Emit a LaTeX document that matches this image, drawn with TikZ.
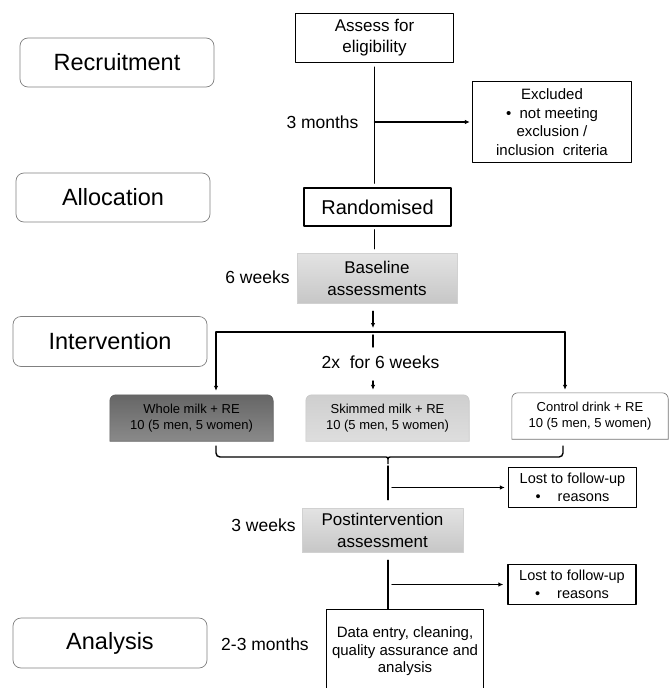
\documentclass[tikz,border=0pt]{standalone}
\usepackage{fontspec}
\setmainfont{Liberation Sans}
\usetikzlibrary{positioning,arrows.meta,backgrounds}

\tikzset{
  stagebox/.style={draw=black!50,line width=0.7pt,rounded corners=8pt,fill=white,
    minimum width=194pt,minimum height=49pt,font=\fontsize{23.5}{26}\selectfont},
  flowbox/.style={draw,line width=1.3pt,align=center},
  greybox/.style={draw=black!18,line width=0.5pt,top color=black!11,bottom color=black!22,align=center},
  armbox/.style={minimum width=163pt,minimum height=46pt,align=center,font=\fontsize{13}{16}\selectfont},
  timelbl/.style={font=\fontsize{17.5}{21}\selectfont},
  link/.style={line width=1.4pt}
}

\begin{document}
\begin{tikzpicture}[x=1pt,y=-1pt,line cap=round,line join=round,>={Latex[length=5pt,width=4.5pt]},every node/.style={inner sep=1pt}]
  \useasboundingbox (0,0) rectangle (670,688);
  \def\r{6pt}
  \node[stagebox] (recr) at (117,62.5) {Recruitment};
  \node[stagebox] (alloc) at (113,197.5) {Allocation};
  \node[stagebox,minimum height=50pt] (interv) at (110,341.5) {Intervention};
  \node[stagebox,minimum height=50pt] (anal) at (110,643) {Analysis};

  \node[flowbox,minimum width=158pt,minimum height=49pt,font=\fontsize{17}{21}\selectfont] (assess) at (374.5,38) {Assess for\\eligibility};
  \node[flowbox,minimum width=159pt,minimum height=81pt,font=\fontsize{15}{18.5}\selectfont] (excl) at (552,122)
    {Excluded\\\textbullet\ \ not meeting\\exclusion /\\inclusion~ criteria};
  \node[flowbox,line width=1.7pt,minimum width=147pt,minimum height=38pt,font=\fontsize{20}{24}\selectfont] (rand) at (377.5,207) {Randomised};
  \node[greybox,minimum width=160pt,minimum height=50pt,font=\fontsize{17}{22}\selectfont] (base) at (377,278) {Baseline\\assessments};
  \node[armbox] (whole) at (191.5,418) {Whole milk + RE\\10 (5 men, 5 women)};
  \node[armbox] (skim) at (387.5,418) {Skimmed milk + RE\\10 (5 men, 5 women)};
  \node[armbox,minimum width=156pt] (ctrl) at (590,416) {Control drink + RE\\10 (5 men, 5 women)};
  \node[flowbox,minimum width=128pt,minimum height=40pt,font=\fontsize{14.5}{17.5}\selectfont] (lost1) at (572.5,487.5)
    {Lost to follow-up\\\textbullet\hspace{17pt}reasons};
  \node[greybox,minimum width=161pt,minimum height=44pt,font=\fontsize{17}{22}\selectfont] (post) at (382.5,530) {Postintervention\\assessment};
  \node[flowbox,minimum width=128pt,minimum height=40pt,font=\fontsize{14.5}{17.5}\selectfont] (lost2) at (572,584.5)
    {Lost to follow-up\\\textbullet\hspace{17pt}reasons};
  \node[flowbox,minimum width=157pt,minimum height=84pt,font=\fontsize{15}{17.5}\selectfont] (data) at (405,651.5)
    {Data entry, cleaning,\\quality assurance and\\analysis};

  \node[timelbl] (t3m) at (322.5,122) {3 months};
  \node[timelbl] (t6w) at (257.5,277) {6 weeks};
  \node[timelbl] (t2x) at (380.5,362) {2x~ for 6 weeks};
  \node[timelbl] (t3w) at (263.5,525) {3 weeks};
  \node[timelbl] (t23m) at (265,644) {2-3 months};

  \begin{scope}[on background layer]
    \foreach \n/\ct/\cb/\cd in {whole/black!60/black!46/black!62,skim/black!19/black!13/black!22,ctrl/white/white/black!55}
      \shadedraw[top color=\ct,bottom color=\cb,draw=\cd,line width=0.6pt]
        (\n.south west) -- ([yshift=-\r]\n.north west) arc[start angle=180,end angle=90,radius=\r]
        -- ([xshift=-\r]\n.north east) arc[start angle=90,end angle=0,radius=\r] -- (\n.south east) -- cycle;
  \end{scope}

  \coordinate (barL) at (216,332);
  \coordinate (barM) at (373,332);
  \coordinate (barR) at (565,332);
  \coordinate (m1) at (373,347);
  \coordinate (m2) at (373,381);
  \coordinate (bl) at (216,446);
  \coordinate (br) at (563,446);
  \coordinate (tip) at (388,466);

  \draw[link,shorten <=4pt,shorten >=4pt] (assess.south) -- (assess.south |- rand.north);
  \draw[link,->,shorten >=2pt] (assess.south |- excl.west) -- (excl.west);
  \draw[link,shorten <=3pt,shorten >=4pt] (rand.south -| assess.south) -- (base.north -| assess.south);
  \draw[link,->,shorten <=8pt,shorten >=4pt] (base.south -| barM) -- (barM);
  \draw[link] (barL) -- (barR);
  \draw[link,shorten <=3pt] (barM) -- (m1);
  \draw[link,->,shorten >=5pt] (m2) -- (m2 |- skim.north);
  \draw[link,->,shorten >=4pt] (barL) -- (barL |- whole.north);
  \draw[link,->,shorten >=3pt] (barR) -- (barR |- ctrl.north);
  \draw[link,rounded corners=4pt] (bl) |- (382,457) .. controls (388,457) .. (tip) .. controls (388,457) .. (394,457) -| (br);
  \draw[link,shorten >=8pt] (tip) -- (tip |- post.north);
  \draw[link,->,shorten <=4pt,shorten >=3pt] (tip |- lost1.west) -- (lost1.west);
  \draw[link,shorten <=8pt] (tip |- post.south) -- (tip |- data.north);
  \draw[link,->,shorten <=4pt,shorten >=4pt] (tip |- lost2.west) -- (lost2.west);
\end{tikzpicture}
\end{document}
